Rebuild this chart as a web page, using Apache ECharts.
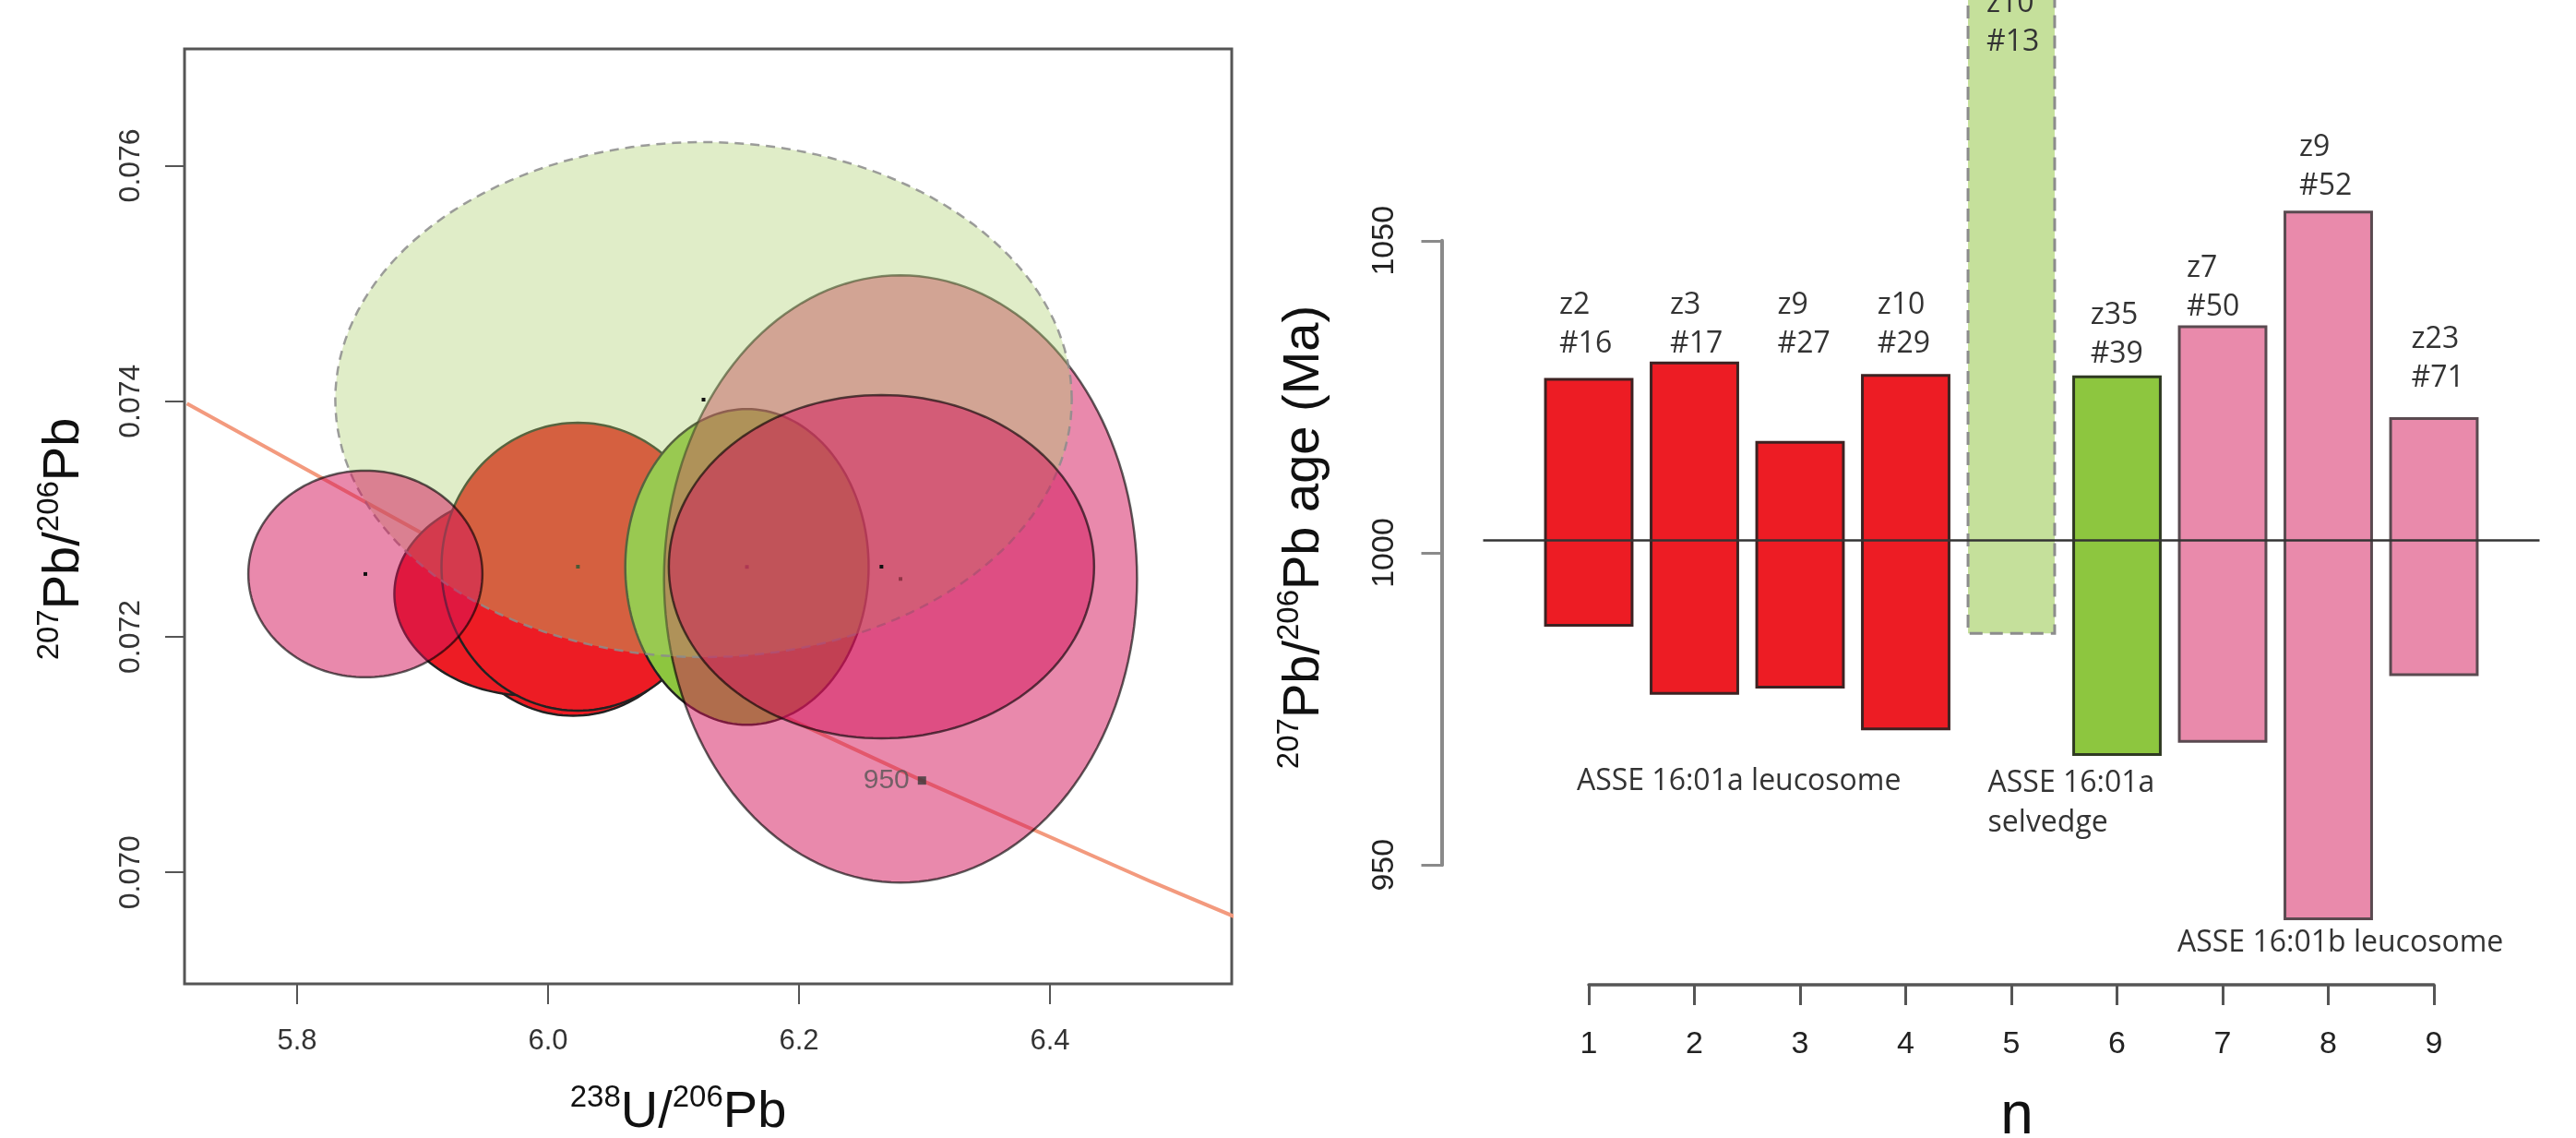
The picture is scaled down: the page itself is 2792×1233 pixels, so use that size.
<!DOCTYPE html>
<html><head><meta charset="utf-8">
<script src="https://cdn.jsdelivr.net/npm/echarts@6/dist/echarts.min.js"></script>
<style>html,body{margin:0;padding:0;background:#fff}#c{width:2792px;height:1233px}</style>
</head><body><div id="c"></div>
<script>
// ---------- Left panel: Tera-Wasserburg diagram ----------
const xTicks = [5.8, 6.0, 6.2, 6.4];
const yTicks = [0.070, 0.072, 0.074, 0.076];
// ellipses listed in drawing order
const ellipseX  = [6.0200, 6.0180, 5.9848, 6.0238, 6.1585, 6.2809, 6.1239, 5.8544, 6.2657];
const ellipseY  = [0.07255, 0.07262, 0.072364, 0.072595, 0.072593, 0.072491, 0.074013, 0.072533, 0.072595];
const ellipseRx = [0.1050, 0.1000, 0.10725, 0.10872, 0.09697, 0.1885, 0.29347, 0.09329, 0.16947];
const ellipseRy = [0.00122, 0.00112, 0.000862, 0.001222, 0.00134, 0.002577, 0.002186, 0.000877, 0.001457];
const ellipseGroup = ['leuco16a','leuco16a','leuco16a','leuco16a','selv','leuco16b','selvRej','leuco16b','leuco16b'];
const concordiaX = [5.7122, 5.9589, 6.1238, 6.2980, 6.4810, 6.5570];
const concordiaY = [0.07398, 0.07253, 0.07164, 0.07078, 0.06992, 0.06958];
const ageMarkX = [6.298];
const ageMarkY = [0.07078];
const ageMarkLabel = ['950'];

// ---------- Right panel: 207Pb/206Pb ages ----------
const nValues = [1, 2, 3, 4, 5, 6, 7, 8, 9];
const ageLow  = [988.4, 977.5, 978.5, 971.8, 987.1, 967.7, 969.8, 941.4, 980.5];
const ageHigh = [1027.8, 1030.4, 1017.7, 1028.4, 1095.0, 1028.2, 1036.2, 1054.6, 1021.5];
const barGroup = ['leuco16a','leuco16a','leuco16a','leuco16a','selvRej','selv','leuco16b','leuco16b','leuco16b'];
const grainLabels = ['z2\n#16', 'z3\n#17', 'z9\n#27', 'z10\n#29', 'z10\n#13', 'z35\n#39', 'z7\n#50', 'z9\n#52', 'z23\n#71'];
const labelN   = [0.72, 1.769, 2.786, 3.732, 4.764, 5.748, 6.659, 7.725, 8.787];
const labelAge = [1036.6, 1036.6, 1036.6, 1036.6, 1084.8, 1034.9, 1042.4, 1061.8, 1031.1];
const refAge = 1002;
const refLineN = [0, 10];
const groupTexts = ['ASSE 16:01a leucosome', 'ASSE 16:01a\nselvedge', 'ASSE 16:01b leucosome'];
const groupN   = [0.886, 4.778, 6.572];
const groupAge = [963.3, 963.0, 937.5];
const nTicks = [1, 9];
const ageTicks = [950, 1050];

// ---------- styles ----------
const ellStyle = {
  leuco16a: {fill: '#ed1c24', stroke: '#222'},
  selvRej:  {fill: 'rgba(173,208,110,0.38)', stroke: 'rgba(140,140,140,0.85)', dash: [10, 7]},
  selv:     {fill: '#8dc63f', stroke: '#222'},
  leuco16b: {fill: 'rgba(212,20,90,0.5)', stroke: 'rgba(0,0,0,0.62)'}
};
const barStyle = {
  leuco16a: {fill: '#ed1c24', stroke: '#3d2222'},
  selvRej:  {fill: '#c5e09b', stroke: '#8c8c8c', dash: [14, 8]},
  selv:     {fill: '#8dc63f', stroke: '#2f3a22'},
  leuco16b: {fill: '#e98aab', stroke: '#5a4a50'}
};
const SANS = 'Liberation Sans, Arial, Helvetica, sans-serif';
const ANN = 'Open Sans, Noto Sans, sans-serif';

const chart = echarts.init(document.getElementById('c'), null, {renderer: 'canvas'});

const titleRich = {
  m: {fontSize: 56, fontFamily: SANS, lineHeight: 64, fill: '#111'},
  s: {fontSize: 33, fontFamily: SANS, lineHeight: 44, verticalAlign: 'top', fill: '#111'},
  n: {fontSize: 64, fontFamily: SANS, lineHeight: 64, fill: '#111'}
};

const option = {
  animation: false,
  backgroundColor: '#fff',
  grid: [
    {left: 200, top: 53, width: 1135, height: 1013, show: true, borderColor: '#555', borderWidth: 3, backgroundColor: 'transparent', outerBoundsMode: 'none'},
    {left: 1607.5, top: 57.8, width: 1145, height: 947.1, outerBoundsMode: 'none'},
    {left: 1722, top: 260.75, width: 916, height: 676.5, outerBoundsMode: 'none'}
  ],
  xAxis: [
    {gridIndex: 0, type: 'value', min: 5.71029, max: 6.54485,
     axisLine: {show: false}, splitLine: {show: false},
     axisTick: {show: true, customValues: xTicks, length: 22, lineStyle: {color: '#555', width: 2}},
     axisLabel: {show: true, customValues: xTicks, formatter: v => v.toFixed(1), margin: 47,
                 fontSize: 31, lineHeight: 31, color: '#333', fontFamily: SANS}},
    {gridIndex: 1, type: 'value', min: 0, max: 10, show: false},
    {gridIndex: 2, type: 'value', min: nTicks[0], max: nTicks[1], interval: 1, offset: 129.75,
     axisLine: {show: true, lineStyle: {color: '#555', width: 3.5}}, splitLine: {show: false},
     axisTick: {show: true, length: 22, lineStyle: {color: '#555', width: 3}},
     axisLabel: {margin: 48, fontSize: 34, lineHeight: 34, color: '#222', fontFamily: SANS, formatter: v => String(v)}}
  ],
  yAxis: [
    {gridIndex: 0, type: 'value', min: 0.069054, max: 0.07699,
     axisLine: {show: false}, splitLine: {show: false},
     axisTick: {show: true, customValues: yTicks, length: 21, lineStyle: {color: '#555', width: 2}},
     axisLabel: {show: true, customValues: yTicks, rotate: 90, formatter: v => v.toFixed(3), margin: 42,
                 fontSize: 32, lineHeight: 32, color: '#333', fontFamily: SANS}},
    {gridIndex: 1, type: 'value', min: 940, max: 1080, show: false},
    {gridIndex: 2, type: 'value', min: ageTicks[0], max: ageTicks[1], interval: 50, offset: 159.5,
     axisLine: {show: true, lineStyle: {color: '#8a8a8a', width: 4}}, splitLine: {show: false},
     axisTick: {show: true, length: 22, lineStyle: {color: '#8a8a8a', width: 3}},
     axisLabel: {rotate: 90, margin: 45, fontSize: 34, lineHeight: 34, color: '#222', fontFamily: SANS, formatter: v => String(v)}}
  ],
  graphic: [
    {type: 'text', x: 69.4, y: 584, rotation: Math.PI / 2, z: 100,
     style: {text: '{s|207}{m|Pb/}{s|206}{m|Pb}', rich: titleRich, align: 'center', verticalAlign: 'middle'}},
    {type: 'text', x: 735, y: 1205.4, z: 100,
     style: {text: '{s|238}{m|U/}{s|206}{m|Pb}', rich: titleRich, align: 'center', verticalAlign: 'middle'}},
    {type: 'text', x: 1413.4, y: 582, rotation: Math.PI / 2, z: 100,
     style: {text: '{s|207}{m|Pb/}{s|206}{m|Pb age (Ma)}', rich: titleRich, align: 'center', verticalAlign: 'middle'}},
    {type: 'text', x: 2186, y: 1210, z: 100,
     style: {text: '{n|n}', rich: titleRich, align: 'center', verticalAlign: 'middle'}}
  ],
  series: [
    // concordia curve (drawn first, beneath ellipses)
    {type: 'line', xAxisIndex: 0, yAxisIndex: 0, z: 1, clip: true,
     data: concordiaX.map((x, i) => [x, concordiaY[i]]), showSymbol: false, symbol: 'none',
     lineStyle: {color: '#f39a7e', width: 4}},
    // error ellipses
    {type: 'custom', xAxisIndex: 0, yAxisIndex: 0, z: 2, clip: true,
     data: ellipseX.map((x, i) => [x, ellipseY[i], ellipseRx[i], ellipseRy[i]]),
     renderItem: function (params, api) {
       const i = params.dataIndex;
       const cx = api.value(0), cy = api.value(1), rx = api.value(2), ry = api.value(3);
       const pts = [];
       for (let k = 0; k < 160; k++) {
         const t = 2 * Math.PI * k / 160;
         pts.push(api.coord([cx + rx * Math.cos(t), cy + ry * Math.sin(t)]));
       }
       const c = api.coord([cx, cy]);
       const st = ellStyle[ellipseGroup[i]];
       return {type: 'group', children: [
         {type: 'polygon', z2: i * 2, shape: {points: pts},
          style: {fill: st.fill, stroke: st.stroke, lineWidth: 2.5, lineDash: st.dash || null}},
         {type: 'rect', z2: i * 2 + 1, shape: {x: c[0] - 2, y: c[1] - 2, width: 4, height: 4}, style: {fill: '#111'}}
       ]};
     }},
    // 950 Ma concordia marker
    {type: 'scatter', xAxisIndex: 0, yAxisIndex: 0, z: 5,
     data: ageMarkX.map((x, i) => ({value: [x, ageMarkY[i]], name: ageMarkLabel[i]})),
     symbol: 'rect', symbolSize: 9, itemStyle: {color: '#3a3a3a'},
     label: {show: true, formatter: p => p.name, position: 'left', distance: 9,
             fontSize: 30, color: '#555', fontFamily: SANS}},
    // age bars
    {type: 'custom', xAxisIndex: 1, yAxisIndex: 1, z: 2, clip: false,
     data: nValues.map((n, i) => [n, ageLow[i], ageHigh[i]]),
     renderItem: function (params, api) {
       const i = params.dataIndex;
       const n = api.value(0), lo = api.value(1), hi = api.value(2);
       const p1 = api.coord([n - 0.41, hi]), p2 = api.coord([n + 0.41, lo]);
       const st = barStyle[barGroup[i]];
       return {type: 'rect', shape: {x: p1[0], y: p1[1], width: p2[0] - p1[0], height: p2[1] - p1[1]},
               style: {fill: st.fill, stroke: st.stroke, lineWidth: 3, lineDash: st.dash || null}};
     }},
    // reference age line
    {type: 'line', xAxisIndex: 1, yAxisIndex: 1, z: 5, clip: false,
     data: refLineN.map(n => [n, refAge]), showSymbol: false, symbol: 'none',
     lineStyle: {color: '#333', width: 2.5}},
    // grain labels
    {type: 'custom', xAxisIndex: 1, yAxisIndex: 1, z: 6, clip: false,
     data: labelN.map((n, i) => [n, labelAge[i]]),
     renderItem: function (params, api) {
       const i = params.dataIndex;
       const p = api.coord([api.value(0), api.value(1)]);
       return {type: 'text', x: p[0], y: p[1],
               style: {text: grainLabels[i], fontSize: 32, lineHeight: 42, fontFamily: ANN, fill: '#333',
                       align: 'left', verticalAlign: 'middle'}};
     }},
    // group labels
    {type: 'custom', xAxisIndex: 1, yAxisIndex: 1, z: 6, clip: false,
     data: groupN.map((n, i) => [n, groupAge[i]]),
     renderItem: function (params, api) {
       const i = params.dataIndex;
       const p = api.coord([api.value(0), api.value(1)]);
       return {type: 'text', x: p[0], y: p[1] - 21.5,
               style: {text: groupTexts[i], fontSize: 32, lineHeight: 43, fontFamily: ANN, fill: '#333',
                       align: 'left', verticalAlign: 'top'}};
     }}
  ]
};
chart.setOption(option);
</script>
</body></html>
